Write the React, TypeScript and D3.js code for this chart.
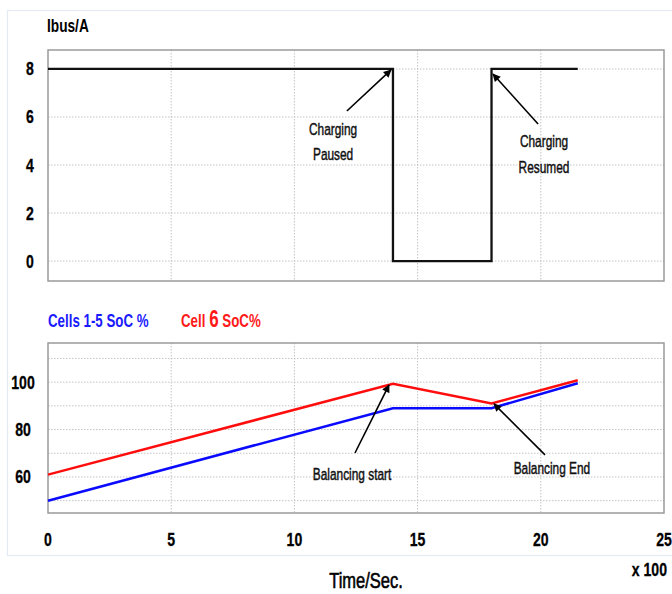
import React from "react";
import * as d3 from "d3";

// ---- data ----
const ibusTime = [0, 14, 14, 18, 18, 21.5];
const ibusValue = [8, 8, 0, 0, 8, 8];
const socTime = [0, 14, 18, 21.5];
const cells15Soc = [50, 89, 89, 99.5];
const cell6Soc = [61, 99.3, 91, 100.8];
const xTicks = [0, 5, 10, 15, 20, 25];
const xGrid = [5, 10, 15, 20];
const ibusTicks = [0, 2, 4, 6, 8];
const socTicks = [60, 80, 100];
const socGrid = [50, 60, 70, 80, 90, 100, 110];

const topNotes = [
  { lines: ["Charging", "Paused"], tx: 11.57, ty: [5.25, 4.21], from: [12.13, 6.25], to: [13.92, 7.96] },
  { lines: ["Charging", "Resumed"], tx: 20.13, ty: [4.75, 3.67], from: [19.89, 5.71], to: [18.06, 7.79] },
];
const botNotes = [
  { lines: ["Balancing start"], tx: 12.34, ty: [58.7], from: [12.46, 70.1], to: [13.84, 98.8] },
  { lines: ["Balancing End"], tx: 20.45, ty: [61.3], from: [20.17, 69.3], to: [18.1, 90.8] },
];

const SANS = "'Liberation Sans', Arial, sans-serif";

function NText({ x, y, size, sx = 0.74, weight = "bold", fill = "#000", anchor = "middle", sw = 0, children }: any) {
  return (
    <g transform={`translate(${x},${y}) scale(${sx},1)`}>
      <text x={0} y={0} fontFamily={SANS} fontSize={size} fontWeight={weight} fill={fill} textAnchor={anchor}
        stroke={sw ? fill : "none"} strokeWidth={sw}>
        {children}
      </text>
    </g>
  );
}

export default function App() {
  const L = 48, R = 664;
  const x = d3.scaleLinear().domain([0, 25]).range([L, R]);
  const yTop = d3.scaleLinear().domain([-0.83, 8.79]).range([281, 50]);
  const yBot = d3.scaleLinear().domain([44.8, 116.5]).range([513, 343]);

  const ibusLine = d3.line<number>().x((_, i) => x(ibusTime[i])).y((d) => yTop(d));
  const socLine = d3.line<number>().x((_, i) => x(socTime[i])).y((d) => yBot(d));

  const gridStyle = { stroke: "#c4c4c4", strokeWidth: 1, strokeDasharray: "1.5,1.5" };

  const renderNotes = (notes: any[], y: any) =>
    notes.map((n, k) => (
      <g key={k}>
        <line
          x1={x(n.from[0])}
          y1={y(n.from[1])}
          x2={x(n.to[0])}
          y2={y(n.to[1])}
          stroke="#000"
          strokeWidth={1.6}
          markerEnd="url(#arrow)"
        />
        {n.lines.map((t: string, j: number) => (
          <NText key={j} x={x(n.tx)} y={y(n.ty[j])} size={16.5} sx={0.72} weight="normal" fill="#111" sw={0.45}>
            {t}
          </NText>
        ))}
      </g>
    ));

  return (
    <div style={{ position: "absolute", left: 0, top: 0 }}>
      <svg width={672} height={594} style={{ display: "block", background: "#fff" }}>
        <defs>
          <marker id="arrow" viewBox="0 0 10 10" refX={9} refY={5} markerWidth={9} markerHeight={8}
            markerUnits="userSpaceOnUse" orient="auto">
            <path d="M0,0 L10,5 L0,10 z" fill="#000" />
          </marker>
        </defs>
        {/* outer frame */}
        <rect x={7.5} y={10.5} width={700} height={545} fill="none" stroke="#e3eaf3" strokeWidth={1.2} />

        {/* ---- top panel ---- */}
        <NText x={47} y={32} size={19} sx={0.72} anchor="start">Ibus/A</NText>
        {ibusTicks.map((t) => (
          <line key={"hg" + t} x1={L} x2={R} y1={yTop(t)} y2={yTop(t)} style={gridStyle} />
        ))}
        {xGrid.map((t) => (
          <line key={"vg" + t} x1={x(t)} x2={x(t)} y1={50} y2={281} style={gridStyle} />
        ))}
        <rect x={L} y={50} width={R - L} height={231} fill="none" stroke="#9a9a9a" strokeWidth={1.5} />
        {ibusTicks.map((t) => (
          <NText key={"yl" + t} x={30} y={yTop(t) + 6.5} size={19} sw={0.3}>{String(t)}</NText>
        ))}
        <path d={ibusLine(ibusValue) || ""} fill="none" stroke="#111" strokeWidth={2.3} />
        {renderNotes(topNotes, yTop)}

        {/* ---- bottom panel ---- */}
        <NText x={48} y={327} size={18} sx={0.74} anchor="start" fill="#1a1aff">Cells 1-5 SoC %</NText>
        <g transform={`translate(181,327) scale(0.74,1)`}>
          <text fontFamily={SANS} fontWeight="bold" fontSize={18} fill="#ff1a1a">
            Cell <tspan fontSize={23}>6</tspan> SoC%
          </text>
        </g>
        {socGrid.map((t) => (
          <line key={"sg" + t} x1={L} x2={R} y1={yBot(t)} y2={yBot(t)} style={gridStyle} />
        ))}
        {xGrid.map((t) => (
          <line key={"sv" + t} x1={x(t)} x2={x(t)} y1={343} y2={513} style={gridStyle} />
        ))}
        <rect x={L} y={343} width={R - L} height={170} fill="none" stroke="#9a9a9a" strokeWidth={1.5} />
        {socTicks.map((t) => (
          <NText key={"sl" + t} x={23} y={yBot(t) + 6.5} size={19} sw={0.3}>{String(t)}</NText>
        ))}
        <path d={socLine(cells15Soc) || ""} fill="none" stroke="#0a0aff" strokeWidth={2.5} />
        <path d={socLine(cell6Soc) || ""} fill="none" stroke="#ff0d0d" strokeWidth={2.5} />
        {renderNotes(botNotes, yBot)}

        {/* x axis labels */}
        {xTicks.map((t) => (
          <NText key={"xt" + t} x={x(t)} y={546} size={19} sw={0.3}>{String(t)}</NText>
        ))}
        <NText x={667} y={576} size={19} anchor="end" sw={0.3}>x 100</NText>
        <NText x={366} y={588} size={22} sx={0.75} weight="normal" sw={0.6}>Time/Sec.</NText>
      </svg>
    </div>
  );
}
